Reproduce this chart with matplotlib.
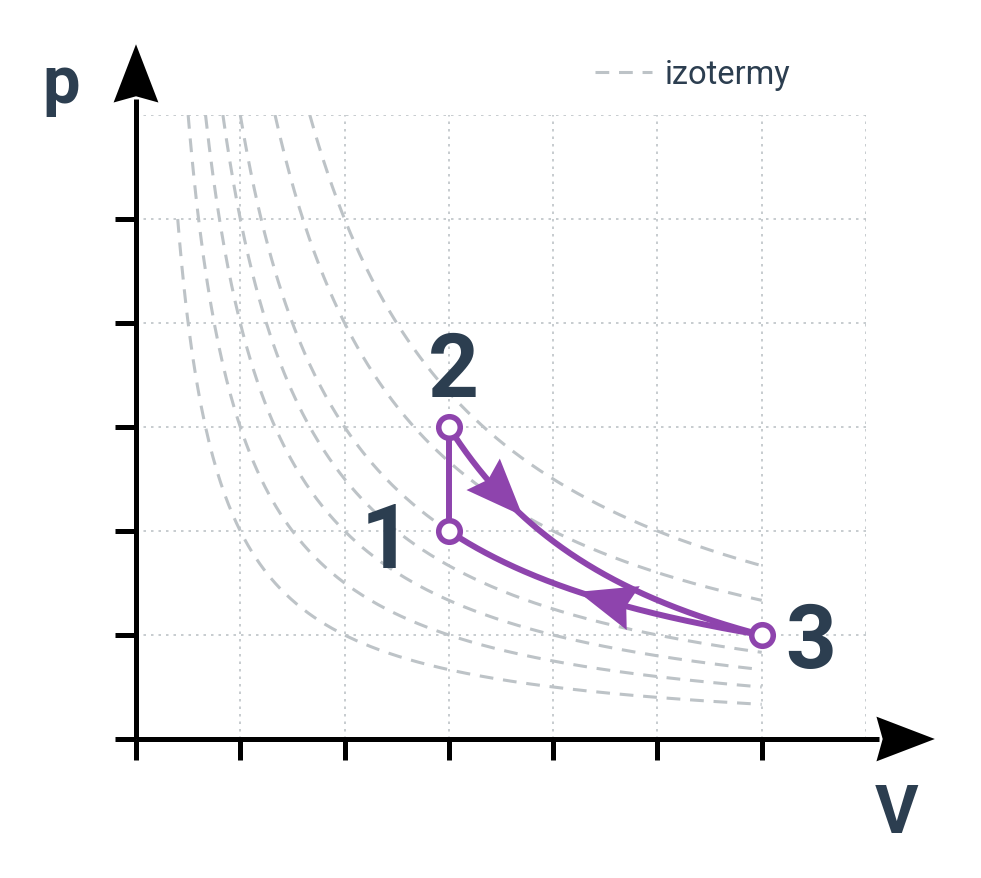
import numpy as np
import matplotlib.pyplot as plt
from matplotlib.patches import Polygon

# etats du cycle (V, p)
etats = ["1", "2", "3"]
V_etat = [3, 3, 6]
p_etat = [2, 3, 1]

# constantes des izotermes p*V = C
izo_C = [2, 3, 4, 5, 6, 8, 10]

xticks = [0, 1, 2, 3, 4, 5, 6]
yticks = [0, 1, 2, 3, 4, 5]

violet = "#8e44ad"
gris = "#bdc3c7"
bleu = "#2c3e50"

plt.rcParams["font.family"] = ["Roboto", "DejaVu Sans"]


def tete(ax, tip, back, longueur, demi, creux, color):
    # tete de fleche type "stealth"
    tip = np.array(tip, float)
    d = tip - np.array(back, float)
    d = d / np.hypot(*d)
    n = np.array([-d[1], d[0]])
    pts = [tip,
           tip - d * longueur + n * demi,
           tip - d * (longueur - creux),
           tip - d * longueur - n * demi]
    ax.add_patch(Polygon(pts, closed=True, color=color, lw=0, zorder=6, clip_on=False))


def fleche_courbe(ax, V, p, V_tip, longueur, color):
    i = np.argmin(np.abs(V - V_tip))
    dist = np.hypot(V - V[i], p - p[i])
    # on remonte la courbe vers le debut
    k = i
    while k > 0 and dist[k] < longueur:
        k -= 1
    tete(ax, (V[i], p[i]), (V[k], p[k]), longueur, 0.22, 0.07, color)


fig = plt.figure(figsize=(9.81, 8.79), dpi=100)
ax = fig.add_axes([136 / 981, 139 / 879, 730 / 981, 624 / 879])
ax.set_xlim(0, 7)
ax.set_ylim(0, 6)
for s in ax.spines.values():
    s.set_visible(False)

# grille
for x in range(1, 8):
    ax.axvline(x, color=gris, lw=1.2, ls=(0, (1.5, 3)), zorder=0)
for y in range(1, 7):
    ax.axhline(y, color=gris, lw=1.2, ls=(0, (1.5, 3)), zorder=0)

ax.set_xticks(xticks)
ax.set_yticks(yticks)
ax.set_xticklabels([])
ax.set_yticklabels([])
ax.tick_params(direction="out", length=15, width=3.6, color="black")

# izotermes
for C in izo_C:
    V = np.linspace(max(0.4, C / 6), 6, 300)
    ax.plot(V, C / V, color=gris, lw=2.2, dashes=(4.5, 3.2), zorder=1,
            label="izotermy" if C == izo_C[0] else None)

# axes avec fleches
ax.plot([0, 7.12], [0, 0], color="black", lw=3.6, clip_on=False, zorder=5,
        solid_capstyle="butt")
ax.plot([0, 0], [0, 6.15], color="black", lw=3.6, clip_on=False, zorder=5,
        solid_capstyle="butt")
tete(ax, (7.66, 0), (0, 0), 0.56, 0.215, 0.06, "black")
tete(ax, (0, 6.68), (0, 0), 0.56, 0.215, 0.06, "black")

# cycle
V1, V2, V3 = V_etat
p1, p2, p3 = p_etat
lw_c = 4.3
ax.plot([V1, V2], [p1, p2], color=violet, lw=lw_c, zorder=4)

n = np.log(p2 / p3) / np.log(V3 / V2)
V23 = np.linspace(V2, V3, 400)
p23 = p2 * (V2 / V23) ** n
ax.plot(V23, p23, color=violet, lw=lw_c, zorder=4)
fleche_courbe(ax, V23, p23, 3.71, 0.55, violet)

V31 = np.linspace(V3, V1, 400)
p31 = p3 * V3 / V31
ax.plot(V31, p31, color=violet, lw=lw_c, zorder=4)
fleche_courbe(ax, V31, p31, 4.24, 0.55, violet)

ax.plot(V_etat, p_etat, "o", ms=15.5, mfc="white", mec=violet, mew=4, zorder=7,
        clip_on=False)

# etiquettes
pos_txt = {"1": (2.40, 1.65), "2": (3.04, 3.30), "3": (6.47, 0.69)}
for e in etats:
    ax.text(*pos_txt[e], e, fontsize=64, fontweight="bold", color=bleu,
            ha="center", va="baseline")

ax.text(-0.72, 6.125, "p", fontsize=48, fontweight="bold", color=bleu,
        ha="center", va="baseline", clip_on=False)
ax.text(7.29, -0.894, "V", fontsize=48, fontweight="bold", color=bleu,
        ha="center", va="baseline", clip_on=False)

ax.legend(loc="center left", bbox_to_anchor=(595 / 981, 1 - 75 / 879),
          bbox_transform=fig.transFigure, frameon=False, fontsize=23.5,
          handlelength=1.75, handletextpad=0.4, borderpad=0, borderaxespad=0,
          labelcolor=bleu)

plt.savefig("out.png", dpi=100)
